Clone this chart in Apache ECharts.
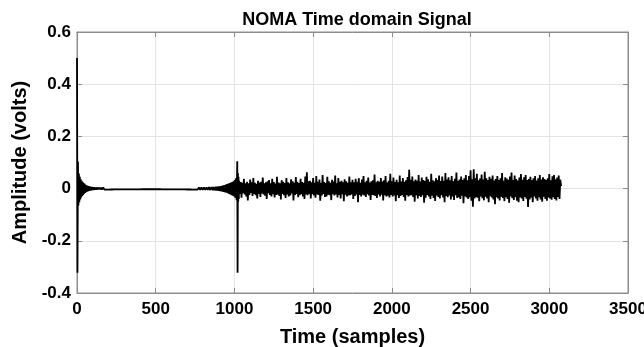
<!DOCTYPE html>
<html>
<head>
<meta charset="utf-8">
<script src="https://cdn.jsdelivr.net/npm/echarts@6/dist/echarts.min.js"></script>
<style>html,body{margin:0;padding:0;background:#fff}#c{width:644px;height:347px}</style>
</head>
<body>
<div id="c"></div>
<script>
// ---- data (amplitude in volts, sample index = start + i*step) ----
const titleText = 'NOMA Time domain Signal';
const xName = 'Time (samples)';
const yName = 'Amplitude (volts)';
const xTicks = [0, 500, 1000, 1500, 2000, 2500, 3000, 3500];
const yTicks = [-0.4, -0.2, 0, 0.2, 0.4, 0.6];

// first impulse and its decay
const seg1Start = 0, seg1Step = 3;
const seg1Values = [0.5,-0.322,0.104,-0.065,0.058,-0.052,0.045,-0.042,0.036,-0.034,
0.03,-0.028,0.025,-0.024,0.021,-0.02,0.018,-0.017,0.015,-0.014,
0.013,-0.012,0.011,-0.011,0.01,-0.009,0.009,-0.008,0.008,-0.008,
0.007,-0.007,0.007,-0.006,0.006,-0.006,0.006,-0.005,0.005,-0.005,
0.005,-0.005,0.005,-0.004,0.004,-0.004,0.004,-0.004,0.004,-0.004];

// quiet section
const seg2Start = 150, seg2Step = 8;
const seg2Values = [0.004,-0.004,0.004,-0.0038,0.0038,-0.0037,0.0036,-0.0036,0.0035,-0.0034,
0.0034,-0.0033,0.0033,-0.0032,0.0032,-0.0031,0.0031,-0.003,0.003,-0.003,
0.0029,-0.0029,0.0028,-0.0028,0.0028,-0.0027,0.0027,-0.0027,0.0026,-0.0026,
0.0026,-0.0026,0.0025,-0.0025,0.0025,-0.0025,0.0025,-0.0025,0.0025,-0.0025,
0.0025,-0.0025,0.0025,-0.0025,0.0025,-0.0025,0.0025,-0.0025,0.0026,-0.0026,
0.0026,-0.0026,0.0027,-0.0027,0.0027,-0.0028,0.0028,-0.0028,0.0029,-0.0029,
0.003,-0.003,0.003,-0.0031,0.0031,-0.0032,0.0032,-0.0033,0.0033,-0.0034,
0.0034,-0.0035,0.0036,-0.0036,0.0037,-0.0038,0.0038,-0.004,0.004,-0.0042,
0.0043,-0.0044,0.0045,-0.0047,0.0048,-0.005,0.0052,-0.0054,0.0056,-0.0058];

// build-up before second impulse
const seg3Start = 866, seg3Step = 4;
const seg3Values = [0.006,-0.0062,0.0065,-0.0068,0.007,-0.0073,0.0076,-0.008,0.0083,-0.0087,
0.009,-0.0095,0.01,-0.0105,0.011,-0.0116,0.0122,-0.013,0.0137,-0.0145,
0.015,-0.016,0.017,-0.018,0.019,-0.02,0.021,-0.022,0.023,-0.025,
0.025,-0.027,0.028,-0.03,0.033,-0.036,0.04,-0.045];

// second impulse
const seg4Start = 1018, seg4Step = 2;
const seg4Values = [0.105,-0.322,0.06,-0.05,0.045,-0.04];

// noisy section
const seg5Start = 1030, seg5Step = 5;
const seg5Values = [
0.03,-0.02,0.025,-0.035,0.022,-0.018,0.038,-0.022,0.02,-0.03,
0.026,-0.045,0.02,-0.024,0.035,-0.017,0.024,-0.028,0.04,-0.02,
0.022,-0.025,0.018,-0.038,0.03,-0.02,0.023,-0.032,0.026,-0.019,
0.042,-0.022,0.02,-0.027,0.024,-0.04,0.028,-0.018,0.033,-0.024,
0.02,-0.03,0.038,-0.021,0.025,-0.034,0.019,-0.024,0.045,-0.022,
0.023,-0.028,0.02,-0.042,0.032,-0.02,0.026,-0.025,0.021,-0.036,
0.04,-0.022,0.024,-0.03,0.02,-0.026,0.036,-0.019,0.028,-0.045,
0.022,-0.024,0.044,-0.02,0.026,-0.033,0.021,-0.025,0.038,-0.021,
0.025,-0.03,0.022,-0.04,0.046,-0.022,0.063,-0.025,0.028,-0.02,
0.03,-0.038,0.024,-0.021,0.04,-0.026,0.022,-0.035,0.048,-0.022,
0.026,-0.024,0.035,-0.046,0.022,-0.027,0.052,-0.02,0.025,-0.032,
0.021,-0.03,0.045,-0.023,0.028,-0.025,0.022,-0.044,0.034,-0.021,
0.027,-0.026,0.05,-0.022,0.02,-0.034,0.04,-0.024,0.026,-0.038,
0.03,-0.021,0.024,-0.048,0.036,-0.023,0.028,-0.03,0.022,-0.026,
0.046,-0.025,0.024,-0.022,0.034,-0.04,0.024,-0.028,0.038,-0.022,
0.026,-0.052,0.04,-0.024,0.022,-0.03,0.035,-0.023,0.048,-0.026,
0.024,-0.032,0.03,-0.021,0.042,-0.026,0.023,-0.044,0.028,-0.024,
0.032,-0.025,0.054,-0.028,0.024,-0.036,0.03,-0.022,0.026,-0.03,
0.04,-0.023,0.027,-0.045,0.032,-0.025,0.048,-0.03,0.023,-0.027,
0.03,-0.034,0.057,-0.024,0.028,-0.03,0.042,-0.026,0.025,-0.048,
0.034,-0.025,0.024,-0.036,0.05,-0.028,0.027,-0.024,0.04,-0.032,
0.026,-0.046,0.032,-0.024,0.044,-0.03,0.072,-0.026,0.034,-0.025,
0.046,-0.032,0.028,-0.05,0.035,-0.025,0.03,-0.038,0.052,-0.028,
0.027,-0.032,0.042,-0.025,0.033,-0.054,0.029,-0.035,0.045,-0.024,
0.036,-0.03,0.026,-0.04,0.057,-0.027,0.032,-0.036,0.028,-0.047,
0.04,-0.026,0.033,-0.032,0.05,-0.038,0.029,-0.025,0.046,-0.034,
0.03,-0.052,0.06,-0.028,0.035,-0.033,0.043,-0.026,0.032,-0.042,
0.048,-0.03,0.028,-0.044,0.038,-0.025,0.062,-0.036,0.03,-0.033,
0.035,-0.04,0.046,-0.027,0.033,-0.056,0.04,-0.03,0.052,-0.034,
0.032,-0.04,0.048,-0.033,0.07,-0.046,0.036,-0.069,0.074,-0.038,
0.04,-0.033,0.057,-0.035,0.032,-0.048,0.039,-0.03,0.054,-0.037,
0.035,-0.045,0.064,-0.031,0.04,-0.038,0.033,-0.052,0.045,-0.029,
0.038,-0.034,0.05,-0.042,0.031,-0.06,0.037,-0.033,0.048,-0.038,
0.033,-0.045,0.04,-0.031,0.06,-0.036,0.03,-0.048,0.043,-0.033,
0.039,-0.04,0.034,-0.054,0.046,-0.03,0.062,-0.037,0.033,-0.044,
0.05,-0.033,0.037,-0.046,0.031,-0.052,0.042,-0.034,0.056,-0.038,
0.034,-0.047,0.043,-0.032,0.052,-0.039,0.033,-0.07,0.037,-0.042,
0.045,-0.035,0.033,-0.052,0.04,-0.03,0.048,-0.038,0.031,-0.046,
0.04,-0.033,0.052,-0.042,0.035,-0.05,0.043,-0.031,0.037,-0.04,
0.033,-0.046,0.04,-0.034,0.056,-0.038,0.032,-0.043,0.047,-0.033,
0.052,-0.04,0.036,-0.045,0.042,-0.032,0.05,-0.04,0.034,0.01];

const segments = [
  [seg1Start, seg1Step, seg1Values],
  [seg2Start, seg2Step, seg2Values],
  [seg3Start, seg3Step, seg3Values],
  [seg4Start, seg4Step, seg4Values],
  [seg5Start, seg5Step, seg5Values]
];
const points = [];
segments.forEach(([s, st, vals]) => vals.forEach((v, i) => points.push([s + i * st, v])));

const FONT = '"Liberation Sans", Arial, sans-serif';
const boxColor = '#8c8c8c';
const gridColor = '#e3e3e3';

const chart = echarts.init(document.getElementById('c'), null, {renderer: 'canvas'});
const xMin = xTicks[0], xMax = xTicks[xTicks.length - 1], xInt = xTicks[1] - xTicks[0];
const yMin = yTicks[0], yMax = yTicks[yTicks.length - 1], yInt = 0.2;

chart.setOption({
  animation: false,
  backgroundColor: '#fff',
  title: {
    text: titleText, left: 352, top: 6, textAlign: 'center',
    textStyle: {fontFamily: FONT, fontWeight: 'bold', fontSize: 18, color: '#000'}
  },
  grid: {left: 77, right: 16, top: 32, bottom: 54, containLabel: false, outerBoundsMode: 'none',
         show: true, borderColor: boxColor, borderWidth: 1, backgroundColor: 'transparent'},
  xAxis: [{
    type: 'value', min: xMin, max: xMax, interval: xInt,
    name: xName, nameLocation: 'middle', nameGap: 34,
    nameTextStyle: {fontFamily: FONT, fontWeight: 'bold', fontSize: 20, color: '#000'},
    axisLine: {show: true, onZero: false, lineStyle: {color: boxColor, width: 1}},
    axisTick: {show: true, inside: true, length: 5, lineStyle: {color: boxColor}},
    axisLabel: {fontFamily: FONT, fontWeight: 'bold', fontSize: 17, color: '#000', margin: 8,
      formatter: v => String(Math.round(v))},
    splitLine: {show: true, lineStyle: {color: gridColor, width: 1}}
  }, {
    type: 'value', position: 'top', min: xMin, max: xMax, interval: xInt,
    axisLine: {show: true, onZero: false, lineStyle: {color: boxColor, width: 1}},
    axisTick: {show: true, inside: true, length: 5, lineStyle: {color: boxColor}},
    axisLabel: {show: false}, splitLine: {show: false}
  }],
  yAxis: [{
    type: 'value', min: yMin, max: yMax, interval: yInt,
    name: yName, nameLocation: 'middle', nameGap: 44, nameRotate: 90,
    nameTextStyle: {fontFamily: FONT, fontWeight: 'bold', fontSize: 20, color: '#000'},
    axisLine: {show: true, onZero: false, lineStyle: {color: boxColor, width: 1}},
    axisTick: {show: true, inside: true, length: 5, lineStyle: {color: boxColor}},
    axisLabel: {fontFamily: FONT, fontWeight: 'bold', fontSize: 17, color: '#000', margin: 6,
      formatter: v => (Math.abs(v) < 1e-9 ? '0' : (+v.toFixed(1)).toString())},
    splitLine: {show: true, lineStyle: {color: gridColor, width: 1}}
  }, {
    type: 'value', position: 'right', min: yMin, max: yMax, interval: yInt,
    axisLine: {show: true, onZero: false, lineStyle: {color: boxColor, width: 1}},
    axisTick: {show: true, inside: true, length: 5, lineStyle: {color: boxColor}},
    axisLabel: {show: false}, splitLine: {show: false}
  }],
  series: [{
    type: 'line', xAxisIndex: 0, yAxisIndex: 0, data: points,
    showSymbol: false, symbol: 'none', smooth: false,
    lineStyle: {color: '#000', width: 1.8}, z: 5
  }]
});
</script>
</body>
</html>
